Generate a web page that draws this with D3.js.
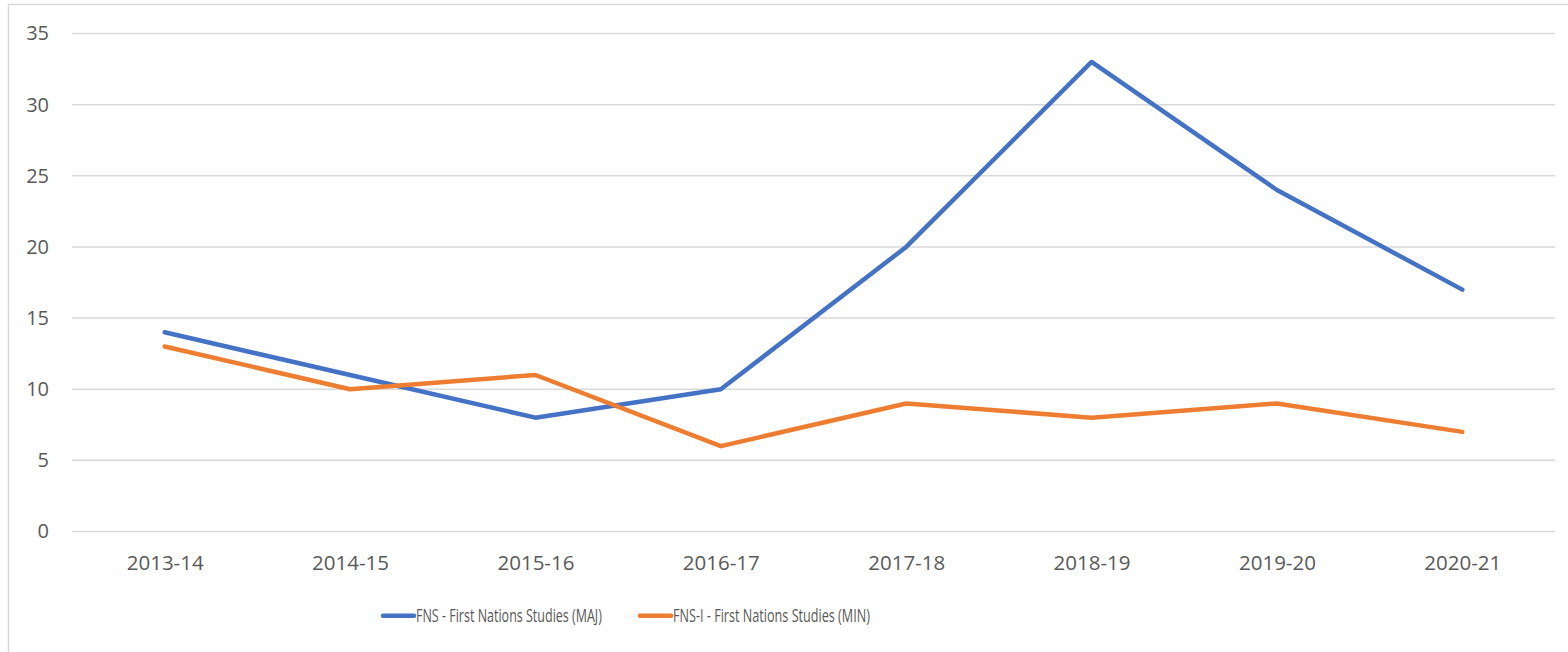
<!DOCTYPE html>
<html><head><meta charset="utf-8">
<script src="https://cdn.jsdelivr.net/npm/d3@7"></script>
<style>
html,body{margin:0;padding:0;background:#fff;}
svg{display:block;font-family:"Open Sans",sans-serif;}
</style></head>
<body>
<svg id="chart" width="1568" height="652"></svg>
<script>
const categories = ["2013-14","2014-15","2015-16","2016-17","2017-18","2018-19","2019-20","2020-21"];
const seriesNames = ["FNS - First Nations Studies (MAJ)","FNS-I - First Nations Studies (MIN)"];
const fnsMaj = [14, 11, 8, 10, 20, 33, 24, 17];
const fnsMin = [13, 10, 11, 6, 9, 8, 9, 7];
const yTicks = [0, 5, 10, 15, 20, 25, 30, 35];
const colors = ["#4472c4", "#ed7d31"];

const svg = d3.select("#chart");
const W = 1568, H = 652;
const plot = {left: 72, right: 1555, top: 33.5, bottom: 531.5};

svg.append("rect").attr("x", 8.5).attr("y", 4.5).attr("width", W).attr("height", H)
  .attr("fill", "none").attr("stroke", "#d9d9d9").attr("stroke-width", 1.5);

const x = d3.scalePoint().domain(categories).range([plot.left, plot.right]).padding(0.5);
const y = d3.scaleLinear().domain([0, 35]).range([plot.bottom, plot.top]);

// gridlines
svg.append("g").selectAll("line").data(yTicks).join("line")
  .attr("x1", plot.left).attr("x2", plot.right)
  .attr("y1", d => y(d)).attr("y2", d => y(d))
  .attr("stroke", "#d9d9d9").attr("stroke-width", 1.5);

// y axis labels
const yAxis = d3.axisLeft(y).tickValues(yTicks).tickSize(0).tickPadding(0);
const gy = svg.append("g").attr("transform", `translate(49,0)`).call(yAxis);
gy.select(".domain").remove();
gy.selectAll("text").attr("fill", "#595959").attr("font-size", 20).attr("font-family", "Open Sans, sans-serif");

// x axis labels
const xAxis = d3.axisBottom(x).tickSize(0).tickPadding(0);
const gx = svg.append("g").attr("transform", `translate(0,${plot.bottom})`).call(xAxis);
gx.select(".domain").remove();
gx.selectAll("text").attr("fill", "#595959").attr("font-size", 20.5)
  .attr("font-family", "Open Sans, sans-serif").attr("y", 38.5).attr("dy", 0);

const line = d3.line().x((d, i) => x(categories[i])).y(d => y(d));
[fnsMaj, fnsMin].forEach((s, k) => {
  svg.append("path").datum(s).attr("d", line)
    .attr("fill", "none").attr("stroke", colors[k]).attr("stroke-width", 4.5)
    .attr("stroke-linejoin", "round").attr("stroke-linecap", "round");
});

// legend
const legendX = [383, 640];
const legendLen = [186, 197];
seriesNames.forEach((name, k) => {
  const g = svg.append("g").attr("transform", `translate(${legendX[k]},615.7)`);
  g.append("line").attr("x1", 0).attr("x2", 31).attr("y1", 0).attr("y2", 0)
    .attr("stroke", colors[k]).attr("stroke-width", 4.5).attr("stroke-linecap", "round");
  const t = g.append("text").attr("x", 0).attr("y", 0).attr("fill", "#595959")
    .attr("font-size", 19).attr("font-family", "Open Sans, sans-serif").text(name);
  const natural = t.node().getComputedTextLength();
  const sx = legendLen[k] / natural;
  t.attr("transform", `translate(33,6.5) scale(${sx},1)`);
});
</script>
</body></html>
